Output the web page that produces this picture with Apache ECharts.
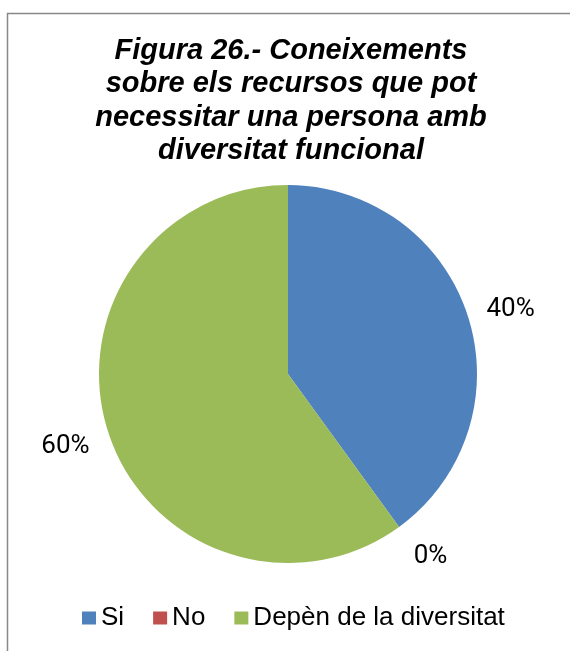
<!DOCTYPE html>
<html>
<head>
<meta charset="utf-8">
<script src="https://cdn.jsdelivr.net/npm/echarts@6/dist/echarts.min.js"></script>
<style>
  html, body { margin: 0; padding: 0; background: #fff; }
  #chart { width: 570px; height: 651px; }
</style>
</head>
<body>
<div id="chart"></div>
<script>
const titleText = 'Figura 26.- Coneixements\nsobre els recursos que pot\nnecessitar una persona amb\ndiversitat funcional';
const categories = ['Si', 'No', 'Depèn de la diversitat'];
const values = [40, 0, 60];
const colors = ['#4F81BD', '#C0504D', '#9BBB59'];
// small nudges of each label (Office "best fit" placement), in px
const labelNudge = [[0, 8], [5, -7], [0, 0]];

const pieData = categories.map((name, i) => ({ name: name, value: values[i], itemStyle: { color: colors[i] } }));
const labelData = categories.map((name, i) => ({ name: name, value: values[i] }));

const chart = echarts.init(document.getElementById('chart'), null, { renderer: 'canvas' });
chart.setOption({
  animation: false,
  backgroundColor: '#fff',
  title: {
    text: titleText,
    left: 291,
    top: 34,
    textAlign: 'center',
    padding: 0,
    textStyle: {
      fontFamily: 'Liberation Sans, Arial, sans-serif',
      fontSize: 29,
      fontWeight: 'bold',
      fontStyle: 'italic',
      color: '#000',
      lineHeight: 33.5
    }
  },
  graphic: [{
    type: 'rect',
    silent: true,
    shape: { x: 7.5, y: 13.5, width: 700, height: 800 },
    style: { fill: 'none', stroke: '#888888', lineWidth: 1.5 },
    z: 0
  }],
  legend: {
    data: categories,
    left: 82,
    top: 605,
    padding: 0,
    itemWidth: 14,
    itemHeight: 13,
    itemGap: 29,
    icon: 'rect',
    selectedMode: false,
    textStyle: {
      fontFamily: 'Liberation Sans, Arial, sans-serif',
      fontSize: 26,
      color: '#000'
    }
  },
  series: [
    {
      type: 'pie',
      center: [288, 374],
      radius: [0, 189],
      startAngle: 90,
      clockwise: true,
      avoidLabelOverlap: false,
      silent: true,
      label: { show: false },
      labelLine: { show: false },
      data: pieData
    },
    {
      type: 'pie',
      center: [288, 374],
      radius: [220, 242],
      startAngle: 90,
      clockwise: true,
      silent: true,
      avoidLabelOverlap: false,
      minShowLabelAngle: 0,
      itemStyle: { color: 'rgba(0,0,0,0)' },
      label: {
        show: true,
        position: 'inside',
        formatter: '{d}%',
        fontFamily: 'Roboto, sans-serif',
        fontSize: 26,
        color: '#000'
      },
      labelLayout: function (p) {
        const n = labelNudge[p.dataIndex] || [0, 0];
        return { dx: n[0], dy: n[1] };
      },
      labelLine: { show: false },
      data: labelData
    }
  ]
});
</script>
</body>
</html>
